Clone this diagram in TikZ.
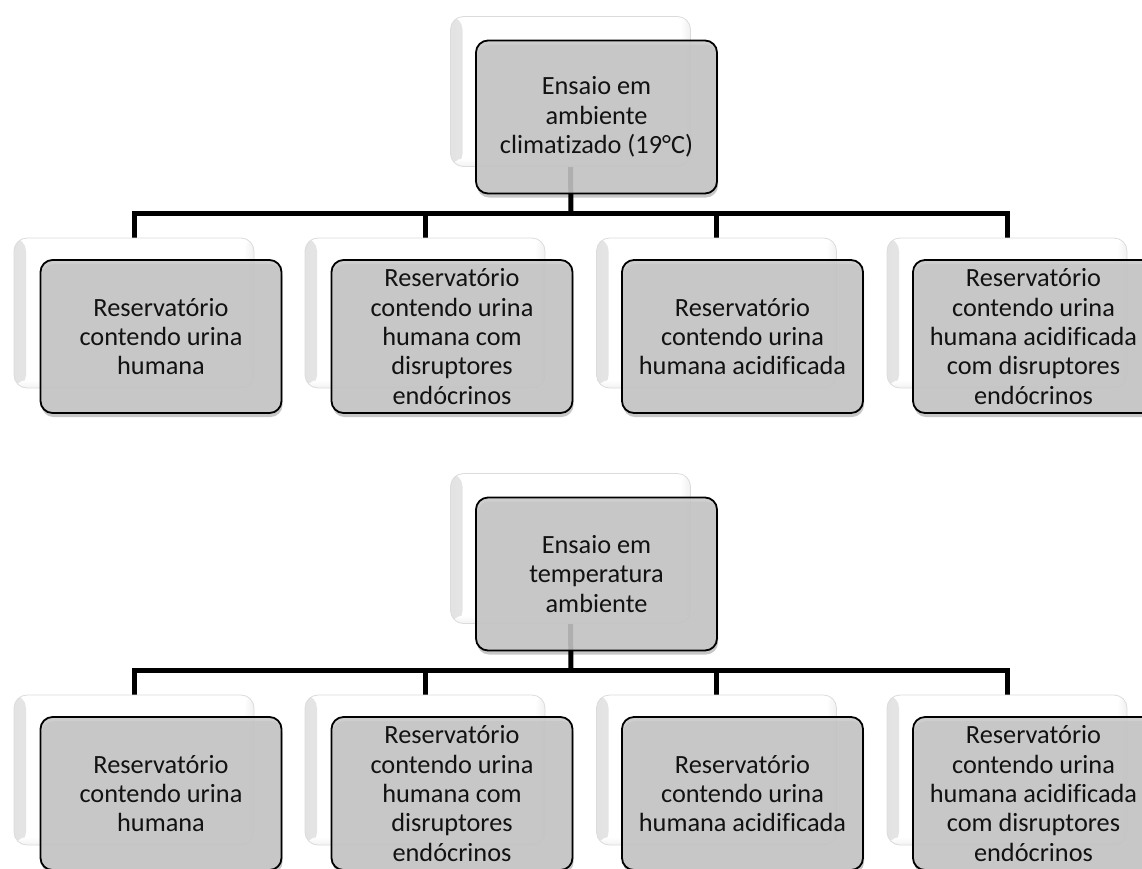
\documentclass[tikz,border=0pt]{standalone}
\usepackage{fontspec}
\setmainfont{Carlito}[Ligatures=NoCommon]
\usetikzlibrary{shadows,backgrounds}
\definecolor{boxgray}{RGB}{200,200,200}
\definecolor{inktext}{RGB}{18,18,18}
\tikzset{
  backcard/.style={draw=gray!28, line width=0.8pt, fill=white, rounded corners=13pt,
    minimum width=240pt, minimum height=150pt, inner sep=0pt, outer sep=0pt,
    path picture={
      \shade[left color=gray!22, right color=white]
        (path picture bounding box.south west) rectangle ([xshift=12pt]path picture bounding box.north west);
      \shade[left color=white, right color=gray!12]
        ([xshift=-10pt]path picture bounding box.south east) rectangle (path picture bounding box.north east);
      \shade[top color=white, bottom color=gray!10]
        ([yshift=8pt]path picture bounding box.south west) rectangle (path picture bounding box.south east);
    }},
  card/.style={draw=black, line width=1.8pt, fill=boxgray, fill opacity=0.88, text opacity=1,
    rounded corners=12pt, minimum width=241pt, minimum height=153pt, inner sep=0pt, outer sep=0pt,
    align=center, font=\fontsize{26.3}{29.3}\selectfont, text=inktext,
    drop shadow={shadow xshift=1pt, shadow yshift=-4pt, opacity=0.22, fill=black}},
  link/.style={line width=5pt, draw=black, line join=miter},
}
\begin{document}
\begin{tikzpicture}[x=1pt, y=-1pt]
  \useasboundingbox (0,0) rectangle (1142,868);
  \clip (0,0) rectangle (1142,868);

  % ---------- first trial: climate-controlled room ----------
  \node[backcard] (tA) at (570.5,91.5) {};
  \node[card] (mA) at (596.5,117) {Ensaio em\\ambiente\\climatizado (19°C)};

  \node[backcard] (cA1) at (134,313) {};
  \node[backcard] (cA2) at (425,313) {};
  \node[backcard] (cA3) at (716.5,313) {};
  \node[backcard] (cA4) at (1007,313) {};
  \node[card] (dA1) at (161,336.5) {Reservatório\\contendo urina\\humana};
  \node[card] (dA2) at (452,336.5) {Reservatório\\contendo urina\\humana com\\disruptores\\endócrinos};
  \node[card] (dA3) at (742.5,336.5) {Reservatório\\contendo urina\\humana acidificada};
  \node[card] (dA4) at (1033.5,336.5) {Reservatório\\contendo urina\\humana acidificada\\com disruptores\\endócrinos};

  % ---------- second trial: room temperature ----------
  \node[backcard] (tB) at (570.5,548.5) {};
  \node[card] (mB) at (596.5,574) {Ensaio em\\temperatura\\ambiente};

  \node[backcard] (cB1) at (134,770) {};
  \node[backcard] (cB2) at (425,770) {};
  \node[backcard] (cB3) at (716.5,770) {};
  \node[backcard] (cB4) at (1007,770) {};
  \node[card] (dB1) at (161,793.5) {Reservatório\\contendo urina\\humana};
  \node[card] (dB2) at (452,793.5) {Reservatório\\contendo urina\\humana com\\disruptores\\endócrinos};
  \node[card] (dB3) at (742.5,793.5) {Reservatório\\contendo urina\\humana acidificada};
  \node[card] (dB4) at (1033.5,793.5) {Reservatório\\contendo urina\\humana acidificada\\com disruptores\\endócrinos};

  % ---------- connectors (behind the cards) ----------
  \coordinate (barA) at (571,213);
  \coordinate (barB) at (571,670);
  \begin{scope}[on background layer]
    \draw[link] (tA.south) -- (barA);
    \draw[link] (cA1.north) -- (cA1.north |- barA) -- (cA4.north |- barA) -- (cA4.north);
    \draw[link] (cA2.north) -- (cA2.north |- barA);
    \draw[link] (cA3.north) -- (cA3.north |- barA);

    \draw[link] (tB.south) -- (barB);
    \draw[link] (cB1.north) -- (cB1.north |- barB) -- (cB4.north |- barB) -- (cB4.north);
    \draw[link] (cB2.north) -- (cB2.north |- barB);
    \draw[link] (cB3.north) -- (cB3.north |- barB);
  \end{scope}
\end{tikzpicture}
\end{document}
